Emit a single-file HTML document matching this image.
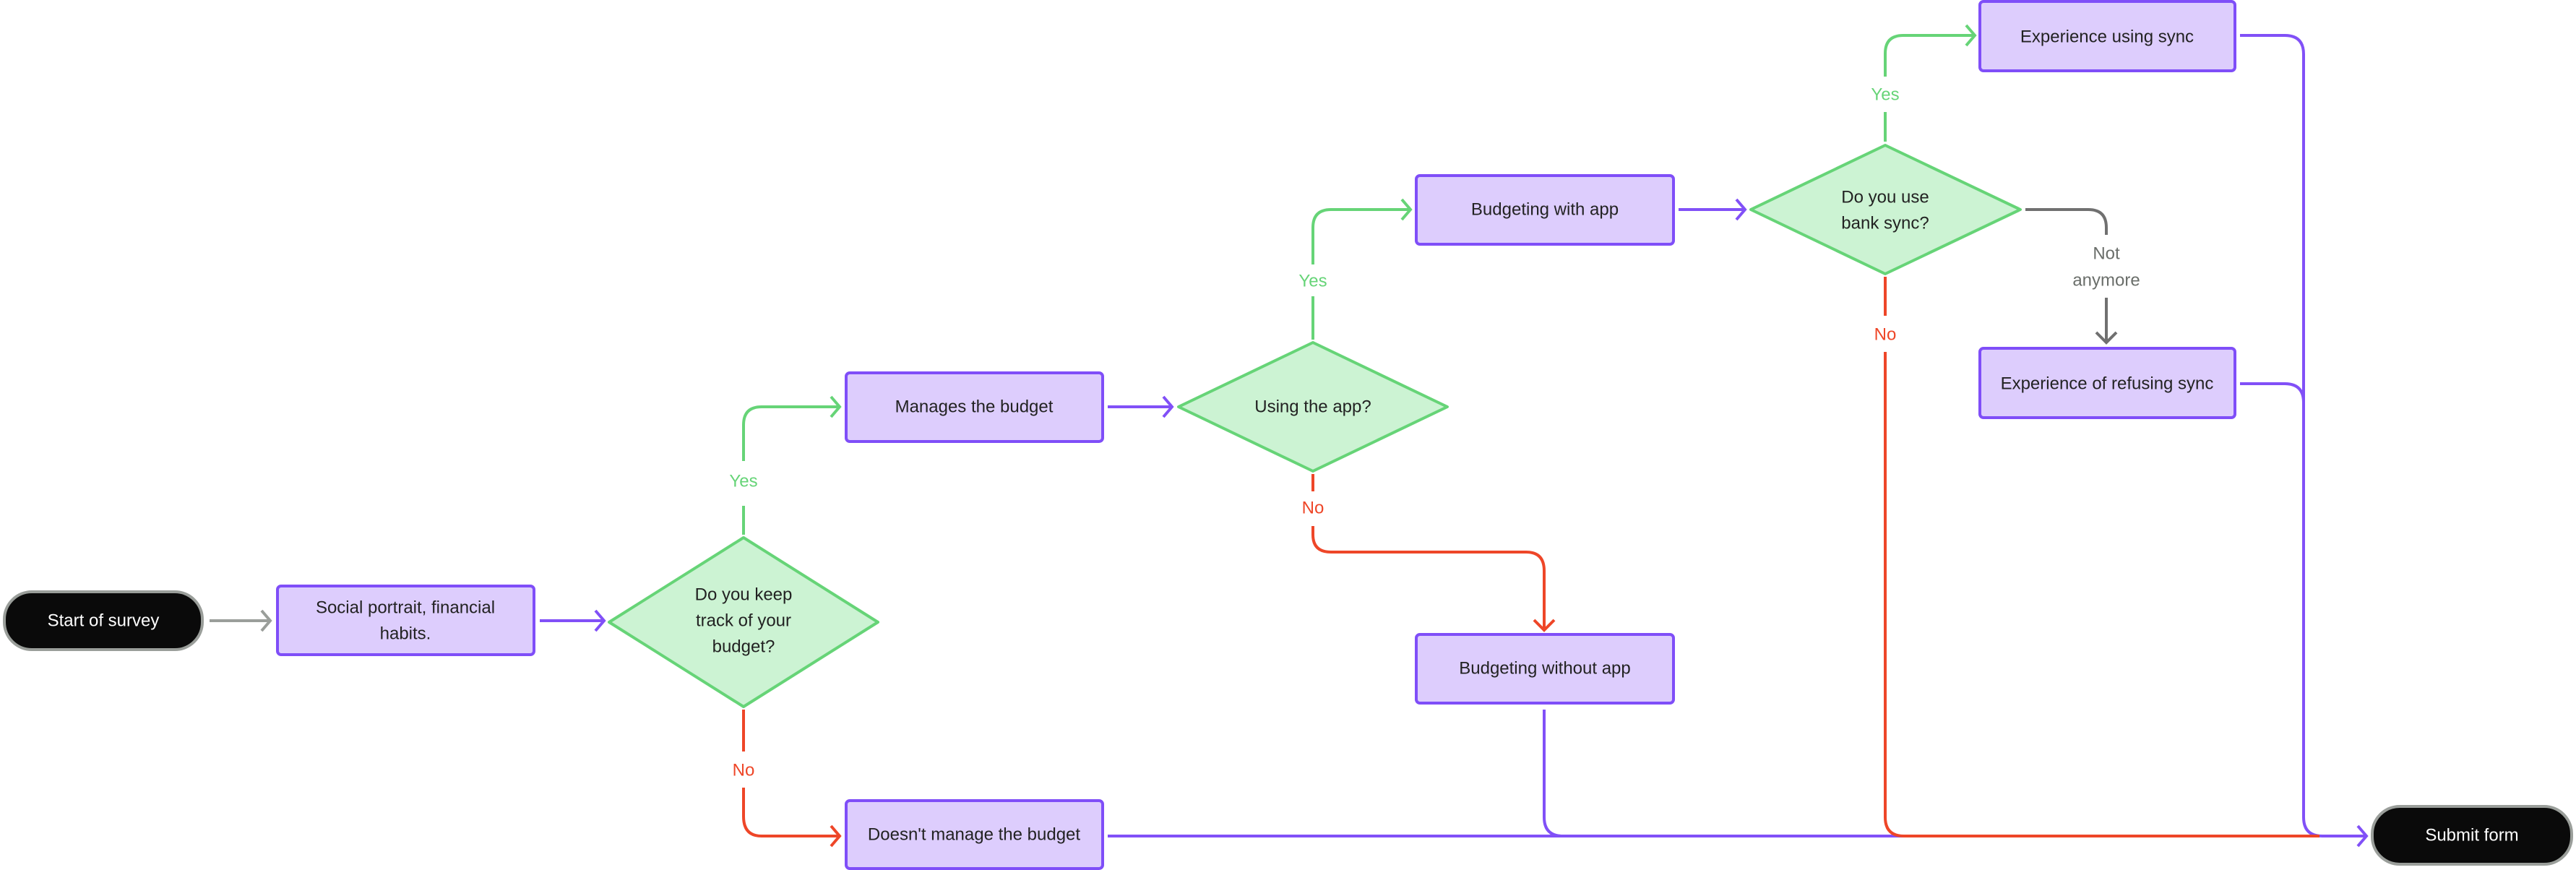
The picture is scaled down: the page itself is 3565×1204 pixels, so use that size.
<!DOCTYPE html>
<html><head><meta charset="utf-8"><style>
html,body{margin:0;padding:0;background:#fff;}
svg{display:block;}
text{font-family:"Liberation Sans",sans-serif;font-size:24px;text-anchor:middle;dominant-baseline:central;}
.b{fill:#ddcdfd;stroke:#7f4ef8;stroke-width:4;}
.d{fill:#ccf3d3;stroke:#66d477;stroke-width:4;stroke-linejoin:round;}
.t{fill:#222;}
.p{fill:none;stroke:#8150f7;stroke-width:4;}
.g{fill:none;stroke:#66d477;stroke-width:4;}
.r{fill:none;stroke:#ee4628;stroke-width:4;}
.k{fill:none;stroke:#707070;stroke-width:4;}
</style></head><body>
<svg width="3565" height="1204" viewBox="0 0 3565 1204" xmlns="http://www.w3.org/2000/svg">
<!-- connectors -->
<path class="k" stroke="#9a9e9a" style="stroke:#9a9e9a" d="M290 859 H372 M362 845 L374 859 L362 873"/>
<path class="p" d="M747 859 H834 M824 845 L836 859 L824 873"/>
<path class="g" d="M1029 740 V700 M1029 638 V588 Q1029 563 1054 563 H1160 M1150 549 L1162 563 L1150 577"/>
<path class="r" d="M1029 982 V1040 M1029 1090 V1130 Q1029 1157 1054 1157 H1160 M1150 1143 L1162 1157 L1150 1171"/>
<path class="p" d="M1533 563 H1620 M1610 549 L1622 563 L1610 577"/>
<path class="g" d="M1817 470 V410 M1817 366 V315 Q1817 290 1842 290 H1950 M1940 276 L1952 290 L1940 304"/>
<path class="r" d="M1817 656 V680 M1817 728 V740 Q1817 764 1842 764 H2112 Q2137 764 2137 790 V870 M2123 858 L2137 872 L2151 858"/>
<path class="p" d="M2323 290 H2413 M2403 276 L2415 290 L2403 304"/>
<path class="g" d="M2609 196 V155 M2609 106 V74 Q2609 49 2634 49 H2731 M2721 35 L2733 49 L2721 63"/>
<path class="k" d="M2803 290 H2890 Q2915 290 2915 315 V325 M2915 412 V472 M2901 460 L2915 474 L2929 460"/>
<path class="p" d="M3100 49 H3162 Q3188 49 3188 75 V1131 Q3188 1157 3214 1157 H3273 M3263 1143 L3275 1157 L3263 1171"/>
<path class="p" d="M3100 531 H3162 Q3188 531 3188 557"/>
<path class="p" d="M1533 1157 H3188"/>
<path class="p" d="M2137 982 V1131 Q2137 1157 2163 1157"/>
<path class="r" d="M2609 383 V437 M2609 487 V1131 Q2609 1157 2635 1157 H3210"/>
<!-- labels -->
<text x="1029" y="666" style="fill:#66d477">Yes</text>
<text x="1029" y="1066" style="fill:#ee4628">No</text>
<text x="1817" y="389" style="fill:#66d477">Yes</text>
<text x="1817" y="703" style="fill:#ee4628">No</text>
<text x="2609" y="131" style="fill:#66d477">Yes</text>
<text x="2609" y="463" style="fill:#ee4628">No</text>
<text x="2915" y="351" style="fill:#6a6e6a">Not</text>
<text x="2915" y="388" style="fill:#6a6e6a">anymore</text>
<!-- nodes -->
<rect x="6" y="819" width="274" height="80" rx="38" fill="#0a0a0a" stroke="#9a9e9a" stroke-width="4"/>
<text x="143" y="859" fill="#fff">Start of survey</text>
<rect class="b" x="384" y="811" width="355" height="95" rx="5"/>
<text class="t" x="561" y="841">Social portrait, financial</text>
<text class="t" x="561" y="877">habits.</text>
<polygon class="d" points="1029,744 1215,861 1029,978 843,861"/>
<text class="t" x="1029" y="823">Do you keep</text>
<text class="t" x="1029" y="859">track of your</text>
<text class="t" x="1029" y="895">budget?</text>
<rect class="b" x="1171" y="516" width="355" height="95" rx="5"/>
<text class="t" x="1348" y="563">Manages the budget</text>
<polygon class="d" points="1817,474 2003,563 1817,652 1631,563"/>
<text class="t" x="1817" y="563">Using the app?</text>
<rect class="b" x="1960" y="243" width="356" height="95" rx="5"/>
<text class="t" x="2138" y="290">Budgeting with app</text>
<rect class="b" x="1960" y="878" width="356" height="95" rx="5"/>
<text class="t" x="2138" y="925">Budgeting without app</text>
<rect class="b" x="1171" y="1108" width="355" height="94" rx="5"/>
<text class="t" x="1348" y="1155">Doesn't manage the budget</text>
<polygon class="d" points="2609,201 2796,290 2609,379 2423,290"/>
<text class="t" x="2609" y="273">Do you use</text>
<text class="t" x="2609" y="309">bank sync?</text>
<rect class="b" x="2740" y="2" width="353" height="96" rx="5"/>
<text class="t" x="2916" y="51">Experience using sync</text>
<rect class="b" x="2740" y="482" width="353" height="96" rx="5"/>
<text class="t" x="2916" y="531">Experience of refusing sync</text>
<rect x="3283" y="1116" width="276" height="80" rx="38" fill="#0a0a0a" stroke="#9a9e9a" stroke-width="4"/>
<text x="3421" y="1156" fill="#fff">Submit form</text>
</svg>
</body></html>
